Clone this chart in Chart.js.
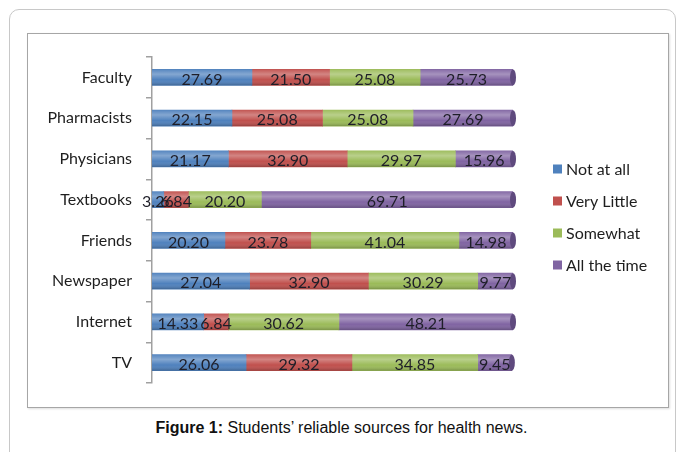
<!DOCTYPE html>
<html>
<head>
<meta charset="utf-8">
<script src="https://cdn.jsdelivr.net/npm/chart.js@4"></script>
<style>
  body { margin: 0; background: #fff; width: 683px; height: 452px; overflow: hidden; position: relative; }
  #outer { position: absolute; left: 9px; top: 9px; width: 665px; height: 452px; border: 1px solid #c8c8c8; border-radius: 10px; }
  #inner { position: absolute; left: 27px; top: 33px; width: 640px; height: 373px; border: 1px solid #a6a6a6; box-shadow: 1px 1px 2px #ddd; }
  #wrap { position: absolute; left: 27px; top: 33px; width: 641px; height: 374px; }
  #cap { position: absolute; left: 0; width: 683px; top: 419px; text-align: center; font-family: "Liberation Sans", Arial, sans-serif; font-size: 16px; color: #111; }
</style>
</head>
<body>
<div id="outer"></div>
<div id="inner"></div>
<div id="wrap"><canvas id="monGraphe"></canvas></div>
<div id="cap"><b>Figure 1:</b> Students’ reliable sources for health news.</div>
<script>
// donnees
var sources = ["Faculty", "Pharmacists", "Physicians", "Textbooks", "Friends", "Newspaper", "Internet", "TV"];
var notAtAll   = [27.69, 22.15, 21.17, 3.26, 20.20, 27.04, 14.33, 26.06];
var veryLittle = [21.50, 25.08, 32.90, 6.84, 23.78, 32.90, 6.84, 29.32];
var somewhat   = [25.08, 25.08, 29.97, 20.20, 41.04, 30.29, 30.62, 34.85];
var allTime    = [25.73, 27.69, 15.96, 69.71, 14.98, 9.77, 48.21, 9.45];
var seriesNames = ["Not at all", "Very Little", "Somewhat", "All the time"];
var couleurs = ["#4f81bd", "#c0504d", "#9bbb59", "#8064a2"];

var police = 'Lato, "Open Sans", sans-serif';

// effet cylindre + bout arrondi + valeurs au milieu
var etiquettes = {
  id: 'etiquettes',
  afterDatasetsDraw: function(chart) {
    var ctx = chart.ctx;
    var last = chart.data.datasets.length - 1;
    ctx.save();
    chart.getDatasetMeta(0).data.forEach(function(bar, j) {
      var fin = chart.getDatasetMeta(last).data[j];
      var h = bar.height, top = bar.y - h / 2;
      var g = ctx.createLinearGradient(0, top, 0, top + h);
      g.addColorStop(0, 'rgba(255,255,255,0.05)');
      g.addColorStop(0.3, 'rgba(255,255,255,0.30)');
      g.addColorStop(0.65, 'rgba(255,255,255,0)');
      g.addColorStop(1, 'rgba(0,0,0,0.22)');
      ctx.fillStyle = g;
      ctx.fillRect(bar.base, top, fin.x - bar.base, h);
      // bout du cylindre
      ctx.beginPath();
      ctx.ellipse(fin.x, fin.y, 3, h / 2, 0, 0, Math.PI * 2);
      ctx.fillStyle = '#5f4a7e';
      ctx.fill();
    });
    ctx.font = '16px ' + police;
    ctx.fillStyle = '#1e1e28';
    ctx.textAlign = 'center';
    ctx.textBaseline = 'middle';
    chart.data.datasets.forEach(function(ds, i) {
      chart.getDatasetMeta(i).data.forEach(function(bar, j) {
        var cx = (bar.x + bar.base) / 2;
        ctx.fillText(ds.data[j].toFixed(2), cx, bar.y + 2);
      });
    });
    ctx.restore();
  }
};

// legende a droite, dessinee a la main
var legende = {
  id: 'legende',
  afterDraw: function(chart) {
    var ctx = chart.ctx;
    ctx.save();
    ctx.font = '16px ' + police;
    ctx.textBaseline = 'middle';
    chart.data.datasets.forEach(function(ds, i) {
      var y = 136 + i * 32;
      ctx.fillStyle = ds.backgroundColor;
      ctx.fillRect(526, y - 4.5, 9, 9);
      ctx.fillStyle = '#1e1e1e';
      ctx.fillText(ds.label, 539, y + 1);
    });
    ctx.restore();
  }
};

var ctx = document.getElementById('monGraphe');
var datasets = [notAtAll, veryLittle, somewhat, allTime].map(function(d, i) {
  return {
    label: seriesNames[i],
    data: d,
    backgroundColor: couleurs[i],
    borderWidth: 0,
    barThickness: 16
  };
});

new Chart(ctx, {
  type: 'bar',
  data: { labels: sources, datasets: datasets },
  options: {
    indexAxis: 'y',
    responsive: true,
    maintainAspectRatio: false,
    animation: false,
    layout: { padding: { left: 0, right: 155, top: 24, bottom: 24 } },
    plugins: { legend: { display: false }, tooltip: { enabled: false } },
    scales: {
      x: { stacked: true, min: 0, max: 100, display: false },
      y: {
        stacked: true,
        afterFit: function(scale) { scale.width = 125; },
        grid: { drawOnChartArea: false, tickLength: 6, color: '#a0a0a0', lineWidth: 1.5 },
        border: { color: '#a0a0a0', width: 1.5 },
        ticks: { padding: 14, color: '#1e1e1e', font: { family: police, size: 16 } }
      }
    }
  },
  plugins: [etiquettes, legende]
});
</script>
</body>
</html>
